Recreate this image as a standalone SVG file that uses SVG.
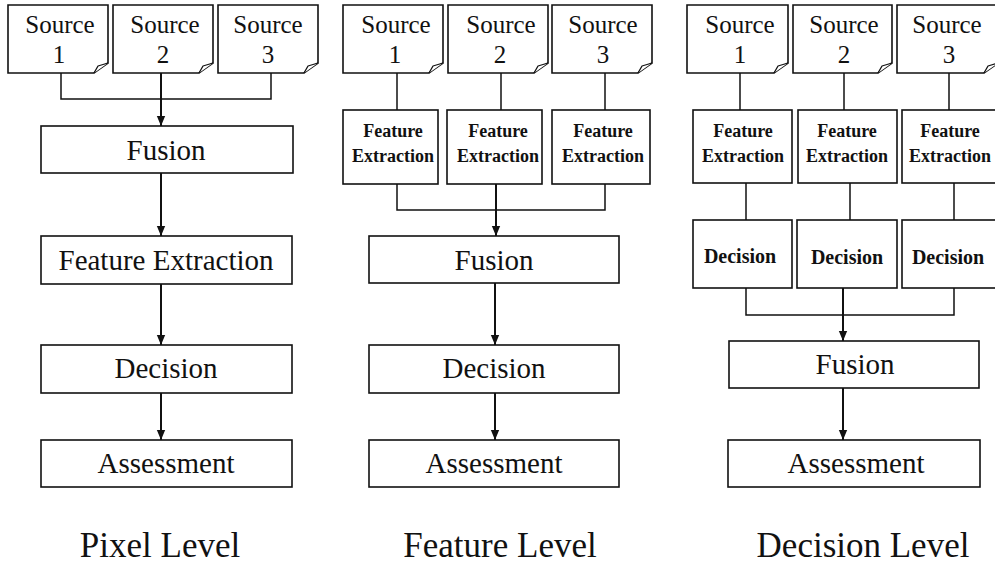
<svg xmlns="http://www.w3.org/2000/svg" width="995" height="566" viewBox="0 0 995 566">
<style>
.box{fill:#fff;stroke:#111;stroke-width:1.6}
.fold{fill:#fff;stroke:#111;stroke-width:1.3;stroke-linejoin:round}
.ln{fill:none;stroke:#111;stroke-width:1.5}
.ar{fill:none;stroke:#111;stroke-width:2}
.t{font-family:"Liberation Serif","DejaVu Serif",serif;fill:#111;text-anchor:middle}
.src{font-size:25px}
.big{font-size:29px}
.sm{font-size:18px;font-weight:bold}
.smd{font-size:20px;font-weight:bold}
.title{font-size:35px}
</style>
<defs>
<marker id="ah" markerUnits="userSpaceOnUse" markerWidth="10" markerHeight="12" refX="12" refY="5" viewBox="0 0 12 10" orient="auto">
<path d="M0,0 L12,5 L0,10 z" fill="#111"/>
</marker>
</defs>
<rect width="995" height="566" fill="#fff"/>

<g id="connectors">
<path class="ln" d="M61 73 V99 H271 V73"/>
<line class="ar" x1="161" y1="73" x2="161" y2="126" marker-end="url(#ah)"/>
<line class="ar" x1="161" y1="173" x2="161" y2="236" marker-end="url(#ah)"/>
<line class="ar" x1="161" y1="284" x2="161" y2="345" marker-end="url(#ah)"/>
<line class="ar" x1="161" y1="393" x2="161" y2="440" marker-end="url(#ah)"/>
<line class="ln" x1="397" y1="73" x2="397" y2="110"/>
<line class="ln" x1="501" y1="73" x2="501" y2="110"/>
<line class="ln" x1="605" y1="73" x2="605" y2="110"/>
<path class="ln" d="M397 184 V210 H605 V184"/>
<line class="ar" x1="496" y1="184" x2="496" y2="236" marker-end="url(#ah)"/>
<line class="ar" x1="495" y1="283" x2="495" y2="345" marker-end="url(#ah)"/>
<line class="ar" x1="495" y1="393" x2="495" y2="440" marker-end="url(#ah)"/>
<line class="ln" x1="740" y1="73" x2="740" y2="110"/>
<line class="ln" x1="844" y1="73" x2="844" y2="110"/>
<line class="ln" x1="949" y1="73" x2="949" y2="110"/>
<line class="ln" x1="746" y1="183" x2="746" y2="220"/>
<line class="ln" x1="850" y1="183" x2="850" y2="220"/>
<line class="ln" x1="954" y1="183" x2="954" y2="220"/>
<path class="ln" d="M746 288 V315 H954 V288"/>
<line class="ar" x1="843" y1="288" x2="843" y2="341" marker-end="url(#ah)"/>
<line class="ar" x1="843" y1="388" x2="843" y2="440" marker-end="url(#ah)"/>
</g>

<g id="p-src1">
<path class="box" d="M8 5 H108 V63 L94 73 H8 Z"/><path class="fold" d="M94 73 L98 66 L108 63"/>
<text class="t src" x="60" y="33">Source</text><text class="t src" x="59" y="63">1</text>
</g>
<g id="p-src2">
<path class="box" d="M113 5 H213 V63 L199 73 H113 Z"/><path class="fold" d="M199 73 L203 66 L213 63"/>
<text class="t src" x="165" y="33">Source</text><text class="t src" x="163" y="63">2</text>
</g>
<g id="p-src3">
<path class="box" d="M218 5 H318 V63 L304 73 H218 Z"/><path class="fold" d="M304 73 L308 66 L318 63"/>
<text class="t src" x="268" y="33">Source</text><text class="t src" x="268" y="63">3</text>
</g>
<g id="p-fusion"><rect class="box" x="41" y="126" width="252" height="47"/><text class="t big" x="166" y="160">Fusion</text></g>
<g id="p-feature"><rect class="box" x="41" y="236" width="251" height="48"/><text class="t big" x="166" y="270">Feature Extraction</text></g>
<g id="p-decision"><rect class="box" x="41" y="345" width="251" height="48"/><text class="t big" x="166" y="378">Decision</text></g>
<g id="p-assessment"><rect class="box" x="41" y="440" width="251" height="47"/><text class="t big" x="166" y="473">Assessment</text></g>
<g id="p-title"><text class="t title" x="160" y="557">Pixel Level</text></g>

<g id="f-src1">
<path class="box" d="M343 5 H443 V63 L429 73 H343 Z"/><path class="fold" d="M429 73 L433 66 L443 63"/>
<text class="t src" x="396" y="33">Source</text><text class="t src" x="395" y="63">1</text>
</g>
<g id="f-src2">
<path class="box" d="M448 5 H548 V63 L534 73 H448 Z"/><path class="fold" d="M534 73 L538 66 L548 63"/>
<text class="t src" x="501" y="33">Source</text><text class="t src" x="500" y="63">2</text>
</g>
<g id="f-src3">
<path class="box" d="M552 5 H652 V63 L638 73 H552 Z"/><path class="fold" d="M638 73 L642 66 L652 63"/>
<text class="t src" x="603" y="33">Source</text><text class="t src" x="603" y="63">3</text>
</g>
<g id="f-fe1"><rect class="box" x="343" y="110" width="95" height="74"/><text class="t sm" x="393" y="137">Feature</text><text class="t sm" x="393" y="162">Extraction</text></g>
<g id="f-fe2"><rect class="box" x="447" y="110" width="95" height="74"/><text class="t sm" x="498" y="137">Feature</text><text class="t sm" x="498" y="162">Extraction</text></g>
<g id="f-fe3"><rect class="box" x="552" y="110" width="98" height="74"/><text class="t sm" x="603" y="137">Feature</text><text class="t sm" x="603" y="162">Extraction</text></g>
<g id="f-fusion"><rect class="box" x="369" y="236" width="250" height="47"/><text class="t big" x="494" y="270">Fusion</text></g>
<g id="f-decision"><rect class="box" x="369" y="345" width="250" height="48"/><text class="t big" x="494" y="378">Decision</text></g>
<g id="f-assessment"><rect class="box" x="369" y="440" width="250" height="47"/><text class="t big" x="494" y="473">Assessment</text></g>
<g id="f-title"><text class="t title" x="500" y="557">Feature Level</text></g>

<g id="d-src1">
<path class="box" d="M687 5 H788 V63 L774 73 H687 Z"/><path class="fold" d="M774 73 L778 66 L788 63"/>
<text class="t src" x="740" y="33">Source</text><text class="t src" x="740" y="63">1</text>
</g>
<g id="d-src2">
<path class="box" d="M793 5 H892 V63 L878 73 H793 Z"/><path class="fold" d="M878 73 L882 66 L892 63"/>
<text class="t src" x="844" y="33">Source</text><text class="t src" x="844" y="63">2</text>
</g>
<g id="d-src3">
<path class="box" d="M897 5 H998 V63 L984 73 H897 Z"/><path class="fold" d="M984 73 L988 66 L998 63"/>
<text class="t src" x="947" y="33">Source</text><text class="t src" x="949" y="63">3</text>
</g>
<g id="d-fe1"><rect class="box" x="693" y="110" width="99" height="73"/><text class="t sm" x="743" y="137">Feature</text><text class="t sm" x="743" y="162">Extraction</text></g>
<g id="d-fe2"><rect class="box" x="798" y="110" width="99" height="73"/><text class="t sm" x="847" y="137">Feature</text><text class="t sm" x="847" y="162">Extraction</text></g>
<g id="d-fe3"><rect class="box" x="902" y="110" width="100" height="73"/><text class="t sm" x="950" y="137">Feature</text><text class="t sm" x="950" y="162">Extraction</text></g>
<g id="d-dec1"><rect class="box" x="693" y="220" width="99" height="68"/><text class="t smd" x="740" y="263">Decision</text></g>
<g id="d-dec2"><rect class="box" x="797" y="220" width="100" height="68"/><text class="t smd" x="847" y="264">Decision</text></g>
<g id="d-dec3"><rect class="box" x="902" y="220" width="100" height="68"/><text class="t smd" x="948" y="264">Decision</text></g>
<g id="d-fusion"><rect class="box" x="729" y="341" width="250" height="47"/><text class="t big" x="855" y="374">Fusion</text></g>
<g id="d-assessment"><rect class="box" x="728" y="440" width="252" height="47"/><text class="t big" x="856" y="473">Assessment</text></g>
<g id="d-title"><text class="t title" x="863" y="557">Decision Level</text></g>
</svg>
